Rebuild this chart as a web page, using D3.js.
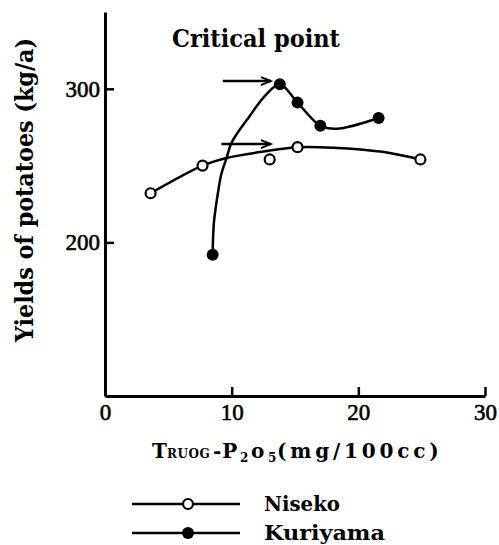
<!DOCTYPE html>
<html><head><meta charset="utf-8">
<script src="https://cdn.jsdelivr.net/npm/d3@7"></script>
<style>body{margin:0;background:#fff} svg{display:block}</style>
</head><body>
<svg id="chart" width="499" height="545"></svg>
<script>
// Observed yields (kg/a) against Truog-P2O5 (mg/100cc)
const nisekoP = [3.6, 7.7, 13.0, 15.2, 24.9];
const nisekoYield = [232, 250, 254, 262, 254];
const kuriyamaP = [8.5, 13.8, 15.2, 17.0, 21.6];
const kuriyamaYield = [192, 303, 291, 276, 281];

// Hand-drawn response curves (knots of each smooth curve)
const nisekoCurveP = [3.6, 7.7, 9.6, 12.8, 15.2, 18.0, 21.9, 24.9];
const nisekoCurveYield = [232, 250, 255, 259.5, 262, 261.7, 259, 254];
const kuriyamaCurveP = [8.5, 8.6, 8.95, 9.2, 9.6, 10.0, 11.4, 12.7, 13.8, 15.2, 17.0, 18.3, 21.6];
const kuriyamaCurveYield = [192, 213, 234, 245, 255, 265, 282, 296, 303, 291, 276, 274, 281];

// Critical point arrows
const arrowFromP = [9.3, 9.2];
const arrowToP = [13.1, 13.1];
const arrowYield = [305, 264];

const xTicks = [0, 10, 20, 30];
const yTicks = [200, 300];
const seriesNames = ["Niseko", "Kuriyama"];
const legendTextWidth = [76, 121];

const svg = d3.select("#chart");
const serif = "'DejaVu Serif', serif";
const numFont = "'Liberation Serif', serif";

const x = d3.scaleLinear().domain([0, 30]).range([105, 485]);
const y = d3.scaleLinear().domain([100, 350]).range([396, 12]);

// axes
const gx = svg.append("g").attr("transform", `translate(0,${y(100)})`)
  .call(d3.axisBottom(x).tickValues(xTicks).tickSizeInner(-9).tickSizeOuter(0).tickPadding(8).tickFormat(d3.format("d")));
const gy = svg.append("g").attr("transform", `translate(${x(0)},0)`)
  .call(d3.axisLeft(y).tickValues(yTicks).tickSizeInner(-9).tickSizeOuter(0).tickPadding(5).tickFormat(d3.format("d")));
[gx, gy].forEach(g => {
  g.select(".domain").attr("stroke", "#000").attr("stroke-width", 3);
  g.selectAll(".tick line").attr("stroke", "#000").attr("stroke-width", 2.5);
  g.selectAll(".tick text").attr("fill", "#000").attr("font-family", numFont)
    .attr("font-size", 23).attr("stroke", "#000").attr("stroke-width", 0.6);
});
gx.selectAll(".tick").filter(d => d === 0).select("line").remove();

// curves
const line = d3.line().x(d => x(d[0])).y(d => y(d[1])).curve(d3.curveCatmullRom.alpha(0.5));
svg.append("path").datum(d3.zip(nisekoCurveP, nisekoCurveYield))
  .attr("d", line).attr("fill", "none").attr("stroke", "#000").attr("stroke-width", 2.5);
svg.append("path").datum(d3.zip(kuriyamaCurveP, kuriyamaCurveYield))
  .attr("d", line).attr("fill", "none").attr("stroke", "#000").attr("stroke-width", 2.5);

// arrows
arrowYield.forEach((v, i) => {
  const x0 = x(arrowFromP[i]), x1 = x(arrowToP[i]), yy = y(v);
  svg.append("line").attr("x1", x0).attr("x2", x1).attr("y1", yy).attr("y2", yy)
    .attr("stroke", "#000").attr("stroke-width", 2.5);
  svg.append("path").attr("d", `M${x1 - 10},${yy - 4}L${x1},${yy}L${x1 - 10},${yy + 4}`)
    .attr("fill", "none").attr("stroke", "#000").attr("stroke-width", 1.8);
});

// points
svg.append("g").selectAll("circle").data(d3.zip(nisekoP, nisekoYield)).join("circle")
  .attr("cx", d => x(d[0])).attr("cy", d => y(d[1])).attr("r", 5)
  .attr("fill", "#fff").attr("stroke", "#000").attr("stroke-width", 2.2);
svg.append("g").selectAll("circle").data(d3.zip(kuriyamaP, kuriyamaYield)).join("circle")
  .attr("cx", d => x(d[0])).attr("cy", d => y(d[1])).attr("r", 6).attr("fill", "#000");

// annotation
svg.append("text").attr("x", 172).attr("y", 47).attr("font-family", serif)
  .attr("font-weight", "bold").attr("font-size", 24)
  .attr("textLength", 168).attr("lengthAdjust", "spacingAndGlyphs").text("Critical point");

// y axis title
svg.append("text").attr("transform", "translate(33,342) rotate(-90)")
  .attr("font-family", serif).attr("font-weight", "bold").attr("font-size", 24)
  .attr("textLength", 304).attr("lengthAdjust", "spacingAndGlyphs")
  .text("Yields of potatoes (kg/a)");

// x axis title with small caps and subscripts
const xt = svg.append("text").attr("y", 458).attr("font-family", serif)
  .attr("font-weight", "bold").attr("font-size", 20);
xt.append("tspan").attr("x", 152).text("T");
xt.append("tspan").attr("x", 167).attr("font-size", 12).attr("letter-spacing", 0.5).text("RUOG");
xt.append("tspan").attr("x", 213).attr("letter-spacing", 1).text("-P");
xt.append("tspan").attr("x", 240).attr("font-size", 12).attr("dy", 4).text("2");
xt.append("tspan").attr("x", 251).attr("dy", -4).text("o");
xt.append("tspan").attr("x", 268).attr("font-size", 12).attr("dy", 4).text("5");
xt.append("tspan").attr("x", 277).attr("dy", -4).attr("letter-spacing", 3.8).text("(mg/100cc)");

// legend
const legY = [504, 533];
seriesNames.forEach((name, i) => {
  const g = svg.append("g");
  g.append("line").attr("x1", 132).attr("x2", 240).attr("y1", legY[i]).attr("y2", legY[i])
    .attr("stroke", "#000").attr("stroke-width", 2.5);
  if (i === 0) {
    g.append("circle").attr("cx", 188).attr("cy", legY[i]).attr("r", 5)
      .attr("fill", "#fff").attr("stroke", "#000").attr("stroke-width", 2.2);
  } else {
    g.append("circle").attr("cx", 188).attr("cy", legY[i]).attr("r", 6).attr("fill", "#000");
  }
  g.append("text").attr("x", 264).attr("y", legY[i] + 7).attr("font-family", serif)
    .attr("font-weight", "bold").attr("font-size", 21)
    .attr("textLength", legendTextWidth[i]).attr("lengthAdjust", "spacingAndGlyphs").text(name);
});
</script>
</body></html>
